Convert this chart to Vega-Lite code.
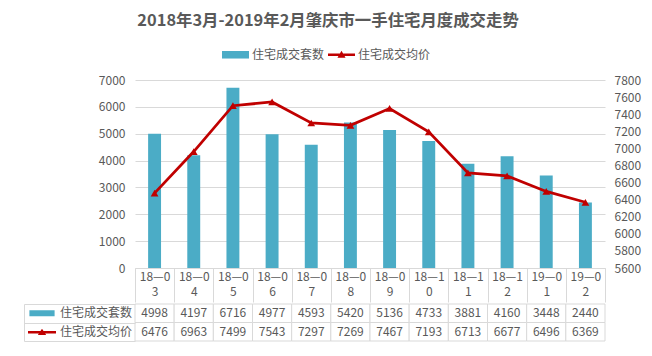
{
  "$schema": "https://vega.github.io/schema/vega-lite/v6.json",
  "padding": {"left": 23, "top": 12, "right": 12, "bottom": 15},
  "background": "white",
  "title": {"text": "2018年3月-2019年2月肇庆市一手住宅月度成交走势", "fontSize": 16.4, "fontWeight": "bold", "color": "#595959", "anchor": "middle", "dx": -4, "offset": 12, "font": "Noto Sans CJK SC"},
  "config": {
    "font": "Noto Sans CJK SC",
    "view": {"stroke": null},
    "axis": {"labelFont": "Noto Sans CJK SC", "labelFontSize": 12, "labelColor": "#595959"},
    "legend": {"labelFont": "Noto Sans CJK SC", "labelFontSize": 12, "labelColor": "#595959"}
  },
  "datasets": {
    "d": [
      {"month": "18—03", "住宅成交套数": 4998, "住宅成交均价": 6476},
      {"month": "18—04", "住宅成交套数": 4197, "住宅成交均价": 6963},
      {"month": "18—05", "住宅成交套数": 6716, "住宅成交均价": 7499},
      {"month": "18—06", "住宅成交套数": 4977, "住宅成交均价": 7543},
      {"month": "18—07", "住宅成交套数": 4593, "住宅成交均价": 7297},
      {"month": "18—08", "住宅成交套数": 5420, "住宅成交均价": 7269},
      {"month": "18—09", "住宅成交套数": 5136, "住宅成交均价": 7467},
      {"month": "18—10", "住宅成交套数": 4733, "住宅成交均价": 7193},
      {"month": "18—11", "住宅成交套数": 3881, "住宅成交均价": 6713},
      {"month": "18—12", "住宅成交套数": 4160, "住宅成交均价": 6677},
      {"month": "19—01", "住宅成交套数": 3448, "住宅成交均价": 6496},
      {"month": "19—02", "住宅成交套数": 2440, "住宅成交均价": 6369}
    ]
  },
  "data": {"name": "d"},
  "spacing": 0,
  "vconcat": [
    {
      "width": 470,
      "height": 188,
      "layer": [
        {
          "mark": {"type": "bar", "width": {"band": 0.33}},
          "encoding": {
            "x": {"field": "month", "type": "ordinal", "sort": null, "scale": {"paddingInner": 0, "paddingOuter": 0},
              "axis": {"title": null, "labelAngle": 0, "domainColor": "#d9d9d9", "ticks": true, "tickColor": "#d9d9d9", "tickSize": 34, "tickBand": "extent", "labelPadding": -31, "labelBaseline": "top", "labelLineHeight": 15, "labelOverlap": false, "labelBound": false, "labelExpr": "[slice(datum.label,0,4), slice(datum.label,4)]"}},
            "y": {"field": "住宅成交套数", "type": "quantitative", "scale": {"domain": [0, 7000], "nice": false},
              "axis": {"title": null, "format": "d", "values": [0,1000,2000,3000,4000,5000,6000,7000], "grid": true, "gridColor": "#d9d9d9", "domain": false, "ticks": false, "labelPadding": 10}},
            "color": {"datum": "住宅成交套数", "scale": {"domain": ["住宅成交套数", "住宅成交均价"], "range": ["#4BACC6", "#C00000"]},
              "legend": {"title": null, "orient": "none", "legendX": 87, "legendY": -39, "direction": "horizontal", "symbolSize": 729, "labelOffset": 3, "columnPadding": 3, "padding": 0,
                "encode": {"symbols": {"update": {
                  "shape": {"signal": "datum.value === '住宅成交套数' ? 'M-1,-0.28H1V0.28H-1Z' : 'M-1,-0.1H1V0.1H-1ZM-0.3,0.22L0,-0.3L0.3,0.22Z'"},
                  "fill": {"signal": "datum.value === '住宅成交套数' ? '#4BACC6' : '#C00000'"},
                  "opacity": {"value": 1},
                  "strokeWidth": {"value": 0}
                }}}}}
          }
        },
        {
          "mark": {"type": "line", "strokeWidth": 2.75, "point": {"shape": "triangle-up", "filled": true, "size": 60}},
          "encoding": {
            "x": {"field": "month", "type": "ordinal", "sort": null},
            "y": {"field": "住宅成交均价", "type": "quantitative", "scale": {"domain": [5600, 7800], "nice": false, "zero": false},
              "axis": {"title": null, "format": "d", "orient": "right", "values": [5600,5800,6000,6200,6400,6600,6800,7000,7200,7400,7600,7800], "grid": false, "domain": false, "ticks": false, "labelPadding": 9}},
            "color": {"datum": "住宅成交均价"}
          }
        }
      ],
      "resolve": {"scale": {"y": "independent"}}
    },
    {
      "width": 470,
      "height": 37,
      "transform": [{"fold": ["住宅成交套数", "住宅成交均价"], "as": ["series", "value"]}],
      "layer": [
        {
          "mark": {"type": "rect", "fill": "white", "stroke": "#d9d9d9", "strokeWidth": 1},
          "encoding": {
            "x": {"field": "month", "type": "ordinal", "sort": null, "scale": {"paddingInner": 0, "paddingOuter": 0}, "axis": null},
            "y": {"field": "series", "type": "nominal", "sort": ["住宅成交套数", "住宅成交均价"], "scale": {"paddingInner": 0, "paddingOuter": 0},
              "axis": {"title": null, "orient": "left", "labels": false, "domain": false, "ticks": true, "tickBand": "extent", "tickSize": 111, "tickColor": "#d9d9d9"}}
          }
        },
        {
          "mark": {"type": "text", "fontSize": 12, "color": "#595959"},
          "encoding": {
            "x": {"field": "month", "type": "ordinal", "sort": null},
            "y": {"field": "series", "type": "nominal", "sort": ["住宅成交套数", "住宅成交均价"], "scale": {"paddingInner": 0, "paddingOuter": 0}, "axis": null},
            "text": {"field": "value", "type": "quantitative", "format": "d"}
          }
        },
        {
          "mark": {"type": "point", "filled": true, "opacity": 0},
          "encoding": {
            "x": {"field": "month", "type": "ordinal", "sort": null},
            "y": {"field": "series", "type": "nominal", "sort": ["住宅成交套数", "住宅成交均价"], "scale": {"paddingInner": 0, "paddingOuter": 0},
              "axis": {"title": null, "orient": "left", "offset": 111, "labels": false, "ticks": false, "domain": true, "domainColor": "#d9d9d9"}},
            "color": {"field": "series", "type": "nominal", "scale": {"domain": ["住宅成交套数", "住宅成交均价"], "range": ["#4BACC6", "#C00000"]},
              "legend": {"title": null, "orient": "none", "legendX": -107, "legendY": 0, "direction": "vertical", "symbolSize": 784, "clipHeight": 18.5, "rowPadding": 0, "labelOffset": 4, "padding": 0,
                "encode": {"symbols": {"update": {
                  "shape": {"signal": "datum.value === '住宅成交套数' ? 'M-0.9,-0.22H0.9V0.22H-0.9Z' : 'M-1,-0.09H1V0.09H-1ZM-0.3,0.2L0,-0.25L0.3,0.2Z'"},
                  "fill": {"signal": "datum.value === '住宅成交套数' ? '#4BACC6' : '#C00000'"},
                  "opacity": {"value": 1},
                  "fillOpacity": {"value": 1},
                  "strokeWidth": {"value": 0}
                }}}}}
          }
        }
      ],
      "resolve": {"scale": {"y": "independent"}}
    }
  ],
  "resolve": {"scale": {"x": "independent", "color": "independent"}, "legend": {"color": "independent"}}
}
